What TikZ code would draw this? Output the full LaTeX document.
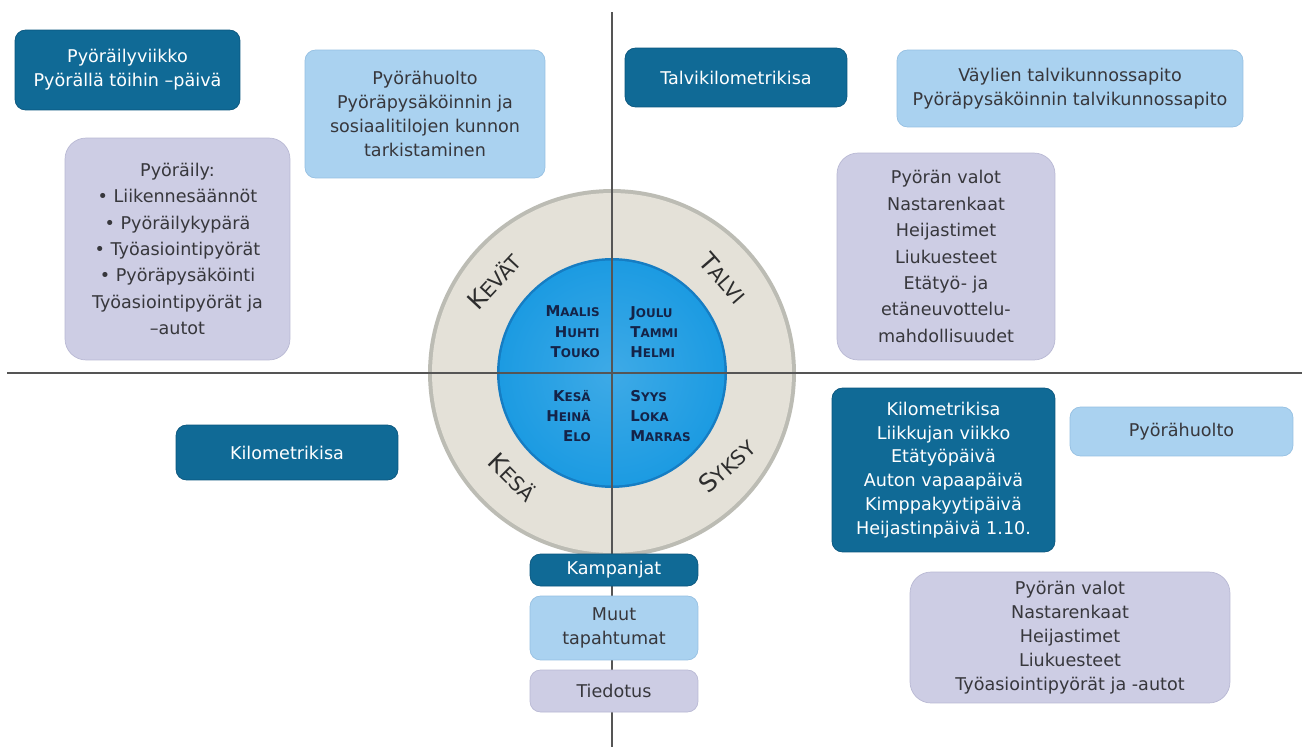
\documentclass[tikz,border=0pt]{standalone}
\usepackage{fontspec}
\setmainfont{DejaVu Sans}
\definecolor{campblue}{RGB}{16,106,150}
\definecolor{campedge}{RGB}{10,85,125}
\definecolor{eventblue}{RGB}{170,210,240}
\definecolor{eventedge}{RGB}{150,192,226}
\definecolor{infolav}{RGB}{205,205,228}
\definecolor{infoedge}{RGB}{185,185,212}
\definecolor{boxtext}{RGB}{55,55,60}
\definecolor{ringgrey}{RGB}{228,225,216}
\definecolor{ringedge}{RGB}{188,188,180}
\definecolor{hubblue}{RGB}{28,155,226}
\definecolor{hubrim}{RGB}{22,125,195}
\definecolor{monthnavy}{RGB}{20,35,72}
\definecolor{seasongrey}{RGB}{45,45,45}
\definecolor{axisgrey}{RGB}{85,85,85}
\newcommand{\mcap}[2]{{\fontsize{8.5}{8.5}\selectfont #1}{\fontsize{6.8}{6.8}\selectfont #2}}
\newcommand{\scap}[2]{{\fontsize{14}{14}\selectfont #1}{\fontsize{11.5}{11.5}\selectfont #2}}

\begin{document}
\begin{tikzpicture}[x=0.02cm,y=-0.02cm,
    campaign/.style={draw=campedge,fill=campblue,text=white,rounded corners=6pt,
      align=center,inner sep=0pt,font=\fontsize{10}{13.6}\selectfont},
    event/.style={draw=eventedge,fill=eventblue,text=boxtext,rounded corners=6pt,
      align=center,inner sep=0pt,font=\fontsize{10}{13.6}\selectfont},
    info/.style={draw=infoedge,fill=infolav,text=boxtext,rounded corners=12pt,
      align=center,inner sep=0pt,font=\fontsize{10}{15}\selectfont},
    month/.style={text=monthnavy,inner sep=0pt,font=\bfseries\fontsize{8.5}{11.6}\selectfont},
    season/.style={text=seasongrey,inner sep=0pt},
    axis/.style={axisgrey,line width=1.1pt}]
  \useasboundingbox (0,0) rectangle (1309,747);
  \fill[white] (0,0) rectangle (1309,747);

  \coordinate (hub) at (612,373);
  \fill[ringedge] (hub) circle (3.68cm);
  \fill[ringgrey] (hub) circle (3.6cm);
  \fill[hubrim] (hub) circle (2.3cm);
  \shade[inner color=hubblue!85!white,outer color=hubblue] (hub) circle (2.25cm);

  \coordinate (top) at (612,12);
  \coordinate (bottom) at (612,747);
  \coordinate (left) at (7,373);
  \coordinate (right) at (1302,373);
  \draw[axis] (top) -- (bottom);
  \draw[axis] (left) -- (right);

  \node[month,align=right,anchor=east] (spring) at (600,332)
    {\mcap{M}{AALIS}\\\mcap{H}{UHTI}\\\mcap{T}{OUKO}};
  \node[month,align=left,anchor=west] (winter) at (630,332)
    {\mcap{J}{OULU}\\\mcap{T}{AMMI}\\\mcap{H}{ELMI}};
  \node[month,align=right,anchor=east] (summer) at (591,416)
    {\mcap{K}{ESÄ}\\\mcap{H}{EINÄ}\\\mcap{E}{LO}};
  \node[month,align=left,anchor=west] (autumn) at (630,416)
    {\mcap{S}{YYS}\\\mcap{L}{OKA}\\\mcap{M}{ARRAS}};

  \node[season,rotate=47] (kevat) at (494,281) {\scap{K}{EVÄT}};
  \node[season,rotate=-49] (talvi) at (723,278) {\scap{T}{ALVI}};
  \node[season,rotate=-45] (kesa) at (513,477) {\scap{K}{ESÄ}};
  \node[season,rotate=42] (syksy) at (727,466) {\scap{S}{YKSY}};

  \node[campaign,minimum width=4.5cm,minimum height=1.6cm] (bikeweek) at (127.5,70)
    {Pyöräilyviikko\\Pyörällä töihin –päivä};
  \node[event,minimum width=4.8cm,minimum height=2.56cm] (bikecare) at (425,114)
    {Pyörähuolto\\Pyöräpysäköinnin ja\\sosiaalitilojen kunnon\\tarkistaminen};
  \node[info,minimum width=4.5cm,minimum height=4.44cm] (springinfo) at (177.5,249)
    {Pyöräily:\\• Liikennesäännöt\\• Pyöräilykypärä\\• Työasiointipyörät\\• Pyöräpysäköinti\\Työasiointipyörät ja\\–autot};

  \node[campaign,minimum width=4.44cm,minimum height=1.18cm] (winterkm) at (736,77.5)
    {Talvikilometrikisa};
  \node[event,minimum width=6.92cm,minimum height=1.54cm] (winterpaths) at (1070,88.5)
    {Väylien talvikunnossapito\\Pyöräpysäköinnin talvikunnossapito};
  \node[info,minimum width=4.36cm,minimum height=4.14cm] (winterinfo) at (946,256.5)
    {Pyörän valot\\Nastarenkaat\\Heijastimet\\Liukuesteet\\Etätyö- ja\\etäneuvottelu-\\mahdollisuudet};

  \node[campaign,minimum width=4.44cm,minimum height=1.1cm] (summerkm) at (287,452.5)
    {Kilometrikisa};

  \node[campaign,minimum width=4.46cm,minimum height=3.28cm] (autumnkm) at (943.5,470)
    {Kilometrikisa\\Liikkujan viikko\\Etätyöpäivä\\Auton vapaapäivä\\Kimppakyytipäivä\\Heijastinpäivä 1.10.};
  \node[event,minimum width=4.46cm,minimum height=0.98cm] (autumncare) at (1181.5,431.5)
    {Pyörähuolto};
  \node[info,minimum width=6.4cm,minimum height=2.62cm,font=\fontsize{10}{13.6}\selectfont] (autumninfo) at (1070,637.5)
    {Pyörän valot\\Nastarenkaat\\Heijastimet\\Liukuesteet\\Työasiointipyörät ja -autot};

  \node[campaign,minimum width=3.36cm,minimum height=0.64cm] (keycamp) at (614,570)
    {Kampanjat};
  \node[event,minimum width=3.36cm,minimum height=1.28cm] (keyevent) at (614,628)
    {Muut\\tapahtumat};
  \node[info,rounded corners=6pt,minimum width=3.36cm,minimum height=0.84cm] (keyinfo) at (614,691)
    {Tiedotus};
\end{tikzpicture}
\end{document}
